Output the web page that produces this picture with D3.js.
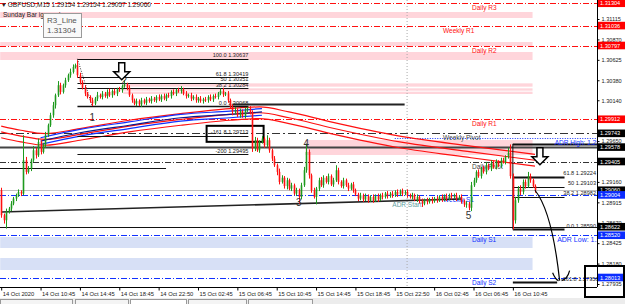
<!DOCTYPE html>
<html lang="en">
<head>
<meta charset="UTF-8">
<title>GBPUSD,M15</title>
<script src="https://d3js.org/d3.v7.min.js"></script>
<style>
  body { margin: 0; background: #fff; }
  svg { display: block; font-family: "Liberation Sans", Arial, sans-serif; }
</style>
</head>
<body>
<svg width="625" height="304"></svg>
<script>
// ---- data (prices in points above 1.2800, 1 pt = 0.0001) ----
const firstOpen = 106;
const closePts = [
  76,70,80,84,90,96,100,104,102,142,
  128,132,142,154,148,164,152,160,172,184,
  196,208,220,232,224,232,238,244,248,254,
  256,244,236,229,222,218,214,210,216,220,
  218,222,219,224,220,225,222,227,226,231,
  233,229,220,214,210,213,209,214,211,215,
  213,216,214,218,215,219,216,220,219,224,
  222,226,225,227,222,219,220,216,218,214,
  216,213,215,214,218,215,219,218,222,225,
  221,222,214,206,200,202,196,201,195,202,
  204,200,156,166,154,164,168,160,166,154,
  144,136,128,116,121,111,118,108,112,102,
  106,98,112,130,152,124,106,98,108,118,
  112,121,116,123,113,118,130,116,111,118,
  112,108,113,106,101,96,100,95,99,94,
  98,94,99,95,100,98,102,99,102,100,
  104,101,105,102,104,100,98,100,95,98,
  93,90,94,92,95,93,96,94,98,95,
  99,96,100,98,100,96,98,93,89,90,
  85,112,118,128,123,132,128,136,132,139,
  134,140,136,142,140,146,151,123,70,94,
  108,104,116,111,123,118,111,106
];
const upWick = [
  3,2,4,2,3,2,2,3,2,30, 4,3,2,5,3,4,2,3,4,2, 3,4,2,5,3,2,3,2,4,3,
  2,6,3,2,3,2,2,3,2,4, 2,3,2,3,4,2,3,2,3,2, 5,2,3,2,2,3,2,3,2,3,
  2,3,2,2,3,2,3,2,3,2, 3,2,3,4,2,3,2,3,2,3, 2,3,2,3,2,3,2,3,2,3,
  4,2,3,2,3,4,2,3,2,3, 2,3,2,4,3,2,3,2,6,3, 2,3,2,4,3,2,3,2,3,2,
  3,2,3,4,10,3,2,3,2,3, 4,3,2,3,2,3,6,3,2,3, 2,3,2,3,2,2,3,2,3,2,
  2,3,2,3,2,3,2,3,2,3, 2,3,2,3,2,3,2,3,2,3, 2,3,2,3,2,3,2,3,2,3,
  2,3,2,3,2,3,2,3,2,3, 2,4,3,2,3,2,3,4,2,3, 2,3,2,3,3,2,6,10,3,4,
  3,4,3,3,5,3,2,2
];
const dnWick = [
  3,4,10,2,3,2,3,2,3,2, 3,2,3,2,4,2,3,2,3,2, 2,3,4,2,3,2,3,2,3,2,
  2,3,3,2,3,2,3,3,2,3, 2,3,2,3,2,3,2,3,2,3, 2,3,2,3,2,3,2,3,2,3,
  2,3,2,3,2,3,2,3,2,3, 2,3,2,3,2,3,2,3,2,3, 3,2,3,2,3,2,3,2,3,2,
  3,2,3,2,4,3,2,3,2,3, 2,3,4,3,2,3,2,3,2,3, 3,2,4,3,2,3,4,2,3,2,
  3,8,3,2,3,4,3,2,9,3, 2,3,2,3,2,3,2,3,2,3, 2,3,2,3,2,3,2,3,2,3,
  2,3,2,3,2,3,2,3,2,3, 2,3,2,3,2,3,2,3,2,3, 3,4,2,3,2,3,2,3,2,3,
  2,3,2,3,2,3,2,3,3,4, 3,4,2,3,2,3,2,3,2,3, 2,3,2,3,2,3,2,3,11,4,
  3,4,3,3,2,3,2,3
];

// moving averages (bar index, points)
const redMaBars = [0, 8, 18, 32, 52, 73, 93, 105, 117, 134, 162, 191, 217];
const redMaPts  = [176, 171, 167, 173, 183, 191, 197, 199, 193, 181, 164, 152, 142];
const blueMaBars = [16, 32, 52, 73, 93, 106];
const blueMaPts  = [165, 175, 184, 193, 197, 200];

// pivot levels
const levelNames  = ["Daily R3", "Weekly R1", "Daily R2", "Daily R1", "Weekly Pivot", "Daily Pivot", "Weekly S1", "Daily S1", "Daily S2"];
const levelPrices = [1.31304, 1.31036, 1.30797, 1.29912, 1.29743, 1.29405, 1.29004, 1.28520, 1.28013];

// other horizontal lines
const adrHigh = 1.29578, adrTop = 1.29687, bidPrice = 1.29060, lowLine = 1.28622, oldLine = 1.29327, boxLine = 1.30100;

// supply / demand zones: [start bar, top, bottom]
const pinkZones = [[0, 1.31199, 1.31127], [0, 1.30839, 1.30791], [0, 1.30719, 1.30623],
                   [50, 1.30343, 1.30303], [50, 1.30283, 1.30255], [50, 1.30243, 1.30215],
                   [124, 1.29663, 1.29483]];
const blueZones = [[0, 1.28499, 1.28367], [0, 1.28247, 1.28103]];

// fibonacci tools
const fibLeftLevels = ["100.0", "61.8", "50", "38.2", "0.0", "-161.8", "-200"];
const fibLeftPrices = [1.30637, 1.30419, 1.30351, 1.30284, 1.30068, 1.29713, 1.29495];
const fibRightLevels = ["100.0", "61.8", "50", "38.2", "0.0", "-161.8"];
const fibRightPrices = [1.29616, 1.29224, 1.29103, 1.28982, 1.28590, 1.27956];

// wave counts
const waveNames = ["1", "2", "3", "4", "5"];
const waveBars = [37, 50, 121, 124, 190];
const wavePrices = [1.29890, 1.30330, 1.28870, 1.29580, 1.28710];

// trendline
const trendBars = [0, 187], trendPrices = [1.28799, 1.28955];

// axes
const priceTicks = [1.31115, 1.30870, 1.30625, 1.30380, 1.30140, 1.29650, 1.29160, 1.28915, 1.28670, 1.28425, 1.28180, 1.27935];
const tagPrices = [1.31304, 1.31036, 1.30797, 1.29912, 1.29743, 1.29578, 1.29405, 1.29060, 1.29004, 1.28622, 1.28520, 1.28013];
const tagKinds  = ["r", "r", "r", "r", "k", "k", "k", "k", "b", "k", "b", "b"];
const timeBars = [0, 16, 32, 48, 64, 80, 96, 112, 128, 144, 160, 176, 192, 208];
const timeLabels = ["14 Oct 2020", "14 Oct 10:45", "14 Oct 14:45", "14 Oct 18:45", "14 Oct 22:50", "15 Oct 02:45", "15 Oct 06:45",
                    "15 Oct 10:45", "15 Oct 14:45", "15 Oct 18:45", "15 Oct 22:50", "16 Oct 02:45", "16 Oct 06:45", "16 Oct 10:45"];

// ---- drawing ----
const svg = d3.select("svg");
const plotR = 597, plotB = 287;
const x = d3.scaleLinear().domain([0, 242]).range([1.2, 596.5]);
const y = d3.scaleLinear().domain([1.27899, 1.31343]).range([plotB, 0]);
const pr = p => 1.28 + p / 1e4;
const RED = "#ff1010", BLUE = "#1030ff", GREEN = "#1e9a1e";

svg.append("defs").append("clipPath").attr("id", "plot")
  .append("rect").attr("width", plotR).attr("height", plotB);
const g = svg.append("g").attr("clip-path", "url(#plot)");

// zones
const zoneEnd = x(216);
g.selectAll(".pz").data(pinkZones).join("rect")
  .attr("x", d => x(d[0]) - 1).attr("width", d => zoneEnd - x(d[0]) + 1)
  .attr("y", d => y(d[1])).attr("height", d => y(d[2]) - y(d[1]))
  .attr("fill", "#ffd5db");
g.selectAll(".bz").data(blueZones).join("rect")
  .attr("x", d => x(d[0]) - 1).attr("width", d => zoneEnd - x(d[0]) + 1)
  .attr("y", d => y(d[1])).attr("height", d => y(d[2]) - y(d[1]))
  .attr("fill", "#d7e0f6");

// day separator
g.append("line").attr("x1", x(165)).attr("x2", x(165)).attr("y1", 0).attr("y2", plotB)
  .attr("stroke", "#aaa").attr("stroke-dasharray", "1,2");

const hline = (p, color, w, dash, x1 = 0, x2 = plotR) =>
  g.append("line").attr("x1", x1).attr("x2", x2)
    .attr("y1", Math.round(y(p)) + 0.5).attr("y2", Math.round(y(p)) + 0.5)
    .attr("stroke", color).attr("stroke-width", w).attr("stroke-dasharray", dash);

// plain lines
hline(adrHigh, "#444", 2, null);
hline(lowLine, "#111", 1, null);
hline(bidPrice, "#c0c0c0", 1, null);
hline(adrTop, BLUE, 1, "1,1.5", x(160));
hline(oldLine, "#111", 1.2, null, 0, x(67));
hline(boxLine, "#222", 2, null, x(94), x(164));

// pivots
levelNames.forEach((n, i) => {
  const c = n.includes("R") ? RED : n.includes("S") ? BLUE : "#333";
  const dash = n === "Weekly Pivot" ? "8,3,2,3" : "6,2,1,2";
  hline(levelPrices[i], c, 1, dash);
  g.append("text").attr("x", n.startsWith("Weekly") ? 443 : 472).attr("y", y(levelPrices[i]) + 7)
    .attr("font-size", 6.5).attr("fill", c === "#333" ? "#444" : c).text(n);
});

// trendline
g.append("line").attr("x1", x(trendBars[0])).attr("y1", y(trendPrices[0]))
  .attr("x2", x(trendBars[1])).attr("y2", y(trendPrices[1]))
  .attr("stroke", "#222").attr("stroke-width", 1.6);

// moving averages
const maLine = d3.line().curve(d3.curveMonotoneX);
[-7, 0, 7].forEach(off => {
  g.append("path").attr("d", maLine(redMaBars.map((b, i) => [x(b), y(pr(redMaPts[i] + off))])))
    .attr("fill", "none").attr("stroke", RED).attr("stroke-width", 1.2);
});
[-4, 0, 4].forEach((off, k) => {
  g.append("path").attr("d", maLine(blueMaBars.map((b, i) => [x(b), y(pr(blueMaPts[i] + off))])))
    .attr("fill", "none").attr("stroke", k === 1 ? "#0a1a90" : BLUE).attr("stroke-width", 1.2);
});

// left fibonacci
const fl0 = x(31), fl1 = x(100.5);
fibLeftPrices.forEach((p, i) => {
  hline(p, "#111", i === 4 ? 1.5 : 1, null, fl0, fl1);
  g.append("text").attr("x", fl1).attr("y", y(p) - 1.5).attr("text-anchor", "end")
    .attr("font-size", 5.6).attr("fill", "#222").text(fibLeftLevels[i] + " " + p.toFixed(5));
});
g.append("rect").attr("x", x(83.5)).attr("y", y(fibLeftPrices[5]) - 10).attr("width", 57).attr("height", 16)
  .attr("fill", "none").attr("stroke", "#000").attr("stroke-width", 2);
g.append("line").attr("x1", x(31)).attr("y1", y(fibLeftPrices[0])).attr("x2", x(37)).attr("y2", y(fibLeftPrices[4]))
  .attr("stroke", "#333").attr("stroke-dasharray", "1,1.5");

// right fibonacci
const fr0 = x(208);
g.append("line").attr("x1", fr0).attr("x2", fr0).attr("y1", y(fibRightPrices[0])).attr("y2", y(fibRightPrices[4]))
  .attr("stroke", "#111");
fibRightPrices.forEach((p, i) => {
  const thick = [0, 1, 4, 5].includes(i);
  hline(p, "#111", thick ? 2 : 1, null, fr0, i === 0 ? plotR : x(i === 5 ? 226 : 229));
  if (i > 0) g.append("text").attr("x", i === 5 ? x(227.5) : plotR - 1).attr("y", y(p) - 1.5)
    .attr("text-anchor", i === 5 ? "start" : "end").attr("font-size", 5.6).attr("fill", "#222")
    .text(fibRightLevels[i] + " " + p.toFixed(5));
});

// candles
const bars = closePts.map((c, i) => {
  const o = i === 0 ? firstOpen : closePts[i - 1];
  return { i, up: c >= o, o: pr(o), c: pr(c), h: pr(Math.max(o, c) + (upWick[i] ?? 2)), l: pr(Math.min(o, c) - (dnWick[i] ?? 2)) };
});
const cg = g.append("g");
cg.selectAll("line").data(bars).join("line")
  .attr("x1", d => Math.round(x(d.i)) + 0.5).attr("x2", d => Math.round(x(d.i)) + 0.5)
  .attr("y1", d => y(d.h)).attr("y2", d => y(d.l))
  .attr("stroke", d => d.up ? GREEN : RED);
cg.selectAll("rect").data(bars).join("rect")
  .attr("x", d => Math.round(x(d.i)) - 0.3).attr("width", 1.6)
  .attr("y", d => y(Math.max(d.o, d.c))).attr("height", d => Math.max(1, Math.abs(y(d.o) - y(d.c))))
  .attr("fill", d => d.up ? GREEN : RED);

// wave numbers
waveNames.forEach((n, i) => {
  g.append("text").attr("x", x(waveBars[i])).attr("y", y(wavePrices[i])).attr("text-anchor", "middle")
    .attr("font-size", 10).attr("fill", "#333").text(n);
});

// hollow arrows
const arrow = (bar, p) => {
  const cx = x(bar), t = y(p);
  g.append("path")
    .attr("d", `M${cx - 3},${t} h6 v9 h5 l-8,8 l-8,-8 h5 z`)
    .attr("fill", "#fff").attr("stroke", "#000").attr("stroke-width", 1.5);
};
arrow(49, 1.30590);
arrow(219, 1.29571);

// projected path
const last = bars[bars.length - 1];
const ex = x(227), ey = y(1.27975);
g.append("path").attr("d", `M${x(217)},${y(last.c)} Q${x(224)},${y(1.2880)} ${ex},${ey}`)
  .attr("fill", "none").attr("stroke", "#000").attr("stroke-width", 1.2);
g.append("path").attr("d", `M${ex - 7},${ey - 8} Q${ex - 4},${ey - 1} ${ex - 1},${ey}`)
  .attr("fill", "none").attr("stroke", "#000").attr("stroke-width", 1.2);
g.append("path").attr("d", `M${ex + 10},${ey - 10} Q${ex + 8},${ey - 2} ${ex + 2},${ey}`)
  .attr("fill", "none").attr("stroke", "#000").attr("stroke-width", 1.2);

// ADR texts
g.append("text").attr("x", x(159)).attr("y", y(1.28855)).attr("font-size", 6.5).attr("fill", "#5f9ea0").text("ADR Start");
g.append("text").attr("x", x(225)).attr("y", y(adrHigh) - 2).attr("font-size", 6.5).attr("fill", BLUE).text("ADR High: " + adrHigh.toFixed(5));
g.append("text").attr("x", x(226)).attr("y", y(1.28520) + 7).attr("font-size", 7).attr("fill", BLUE).text("ADR Low: 1.28395");

// header text
svg.append("text").attr("x", 2).attr("y", 7).attr("font-size", 6.5).attr("fill", "#222")
  .text("▾ GBPUSD,M15  1.29154 1.29154 1.29057 1.29060");
svg.append("text").attr("x", 3).attr("y", 17).attr("font-size", 6.5).attr("fill", "#222").text("Sunday Bar ignored");
svg.append("rect").attr("x", 43.5).attr("y", 13.5).attr("width", 38).attr("height", 24)
  .attr("fill", "#f9f9f9").attr("stroke", "#9a9a9a");
svg.append("text").attr("x", 47).attr("y", 23).attr("font-size", 8).attr("fill", "#555").text("R3_Line");
svg.append("text").attr("x", 47).attr("y", 33).attr("font-size", 8).attr("fill", "#555").text("1.31304");

// price axis
svg.append("rect").attr("x", plotR).attr("y", 0).attr("width", 625 - plotR).attr("height", 304).attr("fill", "#fff");
const ya = svg.append("g").attr("transform", `translate(${plotR + 0.5},0)`)
  .call(d3.axisRight(y).tickValues(priceTicks).tickFormat(d3.format(".5f")).tickSize(2).tickPadding(2));
ya.select(".domain").attr("d", `M0,0V${plotB}`).attr("stroke", "#000");
ya.selectAll("text").attr("font-size", 5.6).attr("fill", "#222").attr("font-family", "Liberation Sans, Arial");
tagPrices.forEach((p, i) => {
  const bg = tagKinds[i] === "r" ? "#ff0000" : tagKinds[i] === "b" ? "#0a2cff" : "#000";
  svg.append("rect").attr("x", plotR + 1).attr("y", y(p) - 3.8).attr("width", 27).attr("height", 7.6).attr("fill", bg);
  svg.append("text").attr("x", plotR + 3).attr("y", y(p) + 2).attr("font-size", 5.6).attr("fill", "#fff").text(p.toFixed(5));
});

// time axis
svg.append("rect").attr("x", 0).attr("y", plotB).attr("width", plotR).attr("height", 304 - plotB).attr("fill", "#fff");
const xa = svg.append("g").attr("transform", `translate(0,${plotB + 0.5})`)
  .call(d3.axisBottom(x).tickValues(timeBars).tickFormat((d, i) => timeLabels[i]).tickSize(3).tickPadding(1));
xa.select(".domain").attr("d", `M0,0H${plotR}`).attr("stroke", "#000");
xa.selectAll("text").attr("font-size", 5.8).attr("fill", "#222").attr("text-anchor", "start").attr("dx", 1)
  .attr("font-family", "Liberation Sans, Arial");

// tab strip
svg.append("rect").attr("x", 0).attr("y", 298).attr("width", 625).attr("height", 6).attr("fill", "#ececec");
[[0, 72], [75, 53], [130, 56], [188, 58], [248, 64]].forEach(([tx, tw], k) => {
  svg.append("rect").attr("x", tx + 0.5).attr("y", 299.5).attr("width", tw).attr("height", 8)
    .attr("fill", k === 2 ? "#fff" : "#f4f4f4").attr("stroke", "#999");
});

// highlight frame at bottom right
svg.append("rect").attr("x", 585).attr("y", 266).attr("width", 39).attr("height", 31)
  .attr("fill", "none").attr("stroke", "#000").attr("stroke-width", 2);
</script>
</body>
</html>
